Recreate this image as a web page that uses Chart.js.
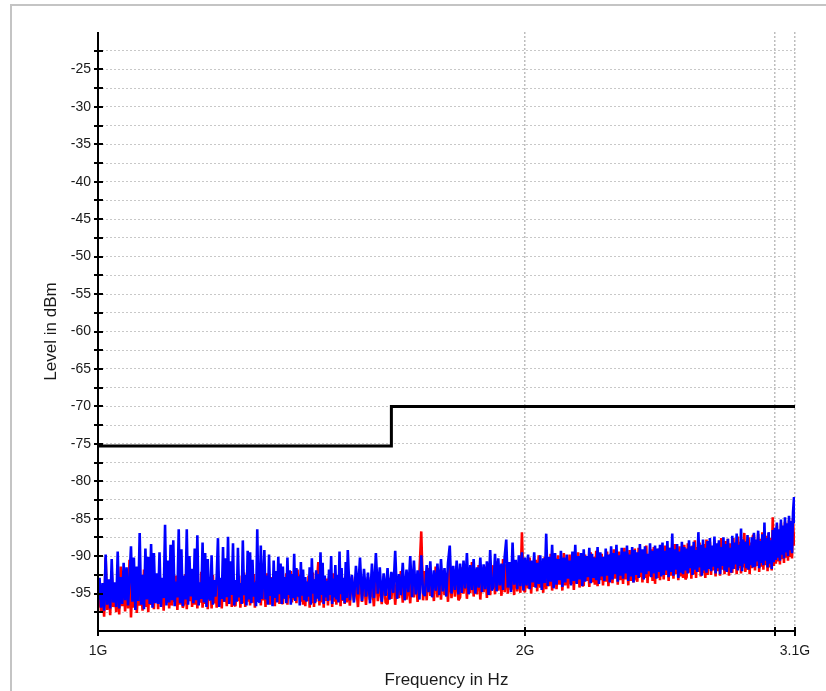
<!DOCTYPE html>
<html>
<head>
<meta charset="utf-8">
<script src="https://cdn.jsdelivr.net/npm/chart.js@4"></script>
<style>
  html, body { margin: 0; padding: 0; background: #fff; overflow: hidden; }
  canvas { display: block; }
</style>
</head>
<body>
<canvas id="chart" width="826" height="691"></canvas>
<script>
// sweep points in MHz (2.5 MHz steps up to 1.5 GHz, 5 MHz above)
const freqMHz = [
  1000,1002.5,1005,1007.5,1010,1012.5,1015,1017.5,1020,1022.5,1025,1027.5,1030,1032.5,1035,1037.5,1040,1042.5,1045,1047.5,
  1050,1052.5,1055,1057.5,1060,1062.5,1065,1067.5,1070,1072.5,1075,1077.5,1080,1082.5,1085,1087.5,1090,1092.5,1095,1097.5,
  1100,1102.5,1105,1107.5,1110,1112.5,1115,1117.5,1120,1122.5,1125,1127.5,1130,1132.5,1135,1137.5,1140,1142.5,1145,1147.5,
  1150,1152.5,1155,1157.5,1160,1162.5,1165,1167.5,1170,1172.5,1175,1177.5,1180,1182.5,1185,1187.5,1190,1192.5,1195,1197.5,
  1200,1202.5,1205,1207.5,1210,1212.5,1215,1217.5,1220,1222.5,1225,1227.5,1230,1232.5,1235,1237.5,1240,1242.5,1245,1247.5,
  1250,1252.5,1255,1257.5,1260,1262.5,1265,1267.5,1270,1272.5,1275,1277.5,1280,1282.5,1285,1287.5,1290,1292.5,1295,1297.5,
  1300,1302.5,1305,1307.5,1310,1312.5,1315,1317.5,1320,1322.5,1325,1327.5,1330,1332.5,1335,1337.5,1340,1342.5,1345,1347.5,
  1350,1352.5,1355,1357.5,1360,1362.5,1365,1367.5,1370,1372.5,1375,1377.5,1380,1382.5,1385,1387.5,1390,1392.5,1395,1397.5,
  1400,1402.5,1405,1407.5,1410,1412.5,1415,1417.5,1420,1422.5,1425,1427.5,1430,1432.5,1435,1437.5,1440,1442.5,1445,1447.5,
  1450,1452.5,1455,1457.5,1460,1462.5,1465,1467.5,1470,1472.5,1475,1477.5,1480,1482.5,1485,1487.5,1490,1492.5,1495,1497.5,
  1500,1505,1510,1515,1520,1525,1530,1535,1540,1545,1550,1555,1560,1565,1570,1575,1580,1585,1590,1595,
  1600,1605,1610,1615,1620,1625,1630,1635,1640,1645,1650,1655,1660,1665,1670,1675,1680,1685,1690,1695,
  1700,1705,1710,1715,1720,1725,1730,1735,1740,1745,1750,1755,1760,1765,1770,1775,1780,1785,1790,1795,
  1800,1805,1810,1815,1820,1825,1830,1835,1840,1845,1850,1855,1860,1865,1870,1875,1880,1885,1890,1895,
  1900,1905,1910,1915,1920,1925,1930,1935,1940,1945,1950,1955,1960,1965,1970,1975,1980,1985,1990,1995,
  2000,2005,2010,2015,2020,2025,2030,2035,2040,2045,2050,2055,2060,2065,2070,2075,2080,2085,2090,2095,
  2100,2105,2110,2115,2120,2125,2130,2135,2140,2145,2150,2155,2160,2165,2170,2175,2180,2185,2190,2195,
  2200,2205,2210,2215,2220,2225,2230,2235,2240,2245,2250,2255,2260,2265,2270,2275,2280,2285,2290,2295,
  2300,2305,2310,2315,2320,2325,2330,2335,2340,2345,2350,2355,2360,2365,2370,2375,2380,2385,2390,2395,
  2400,2405,2410,2415,2420,2425,2430,2435,2440,2445,2450,2455,2460,2465,2470,2475,2480,2485,2490,2495,
  2500,2505,2510,2515,2520,2525,2530,2535,2540,2545,2550,2555,2560,2565,2570,2575,2580,2585,2590,2595,
  2600,2605,2610,2615,2620,2625,2630,2635,2640,2645,2650,2655,2660,2665,2670,2675,2680,2685,2690,2695,
  2700,2705,2710,2715,2720,2725,2730,2735,2740,2745,2750,2755,2760,2765,2770,2775,2780,2785,2790,2795,
  2800,2805,2810,2815,2820,2825,2830,2835,2840,2845,2850,2855,2860,2865,2870,2875,2880,2885,2890,2895,
  2900,2905,2910,2915,2920,2925,2930,2935,2940,2945,2950,2955,2960,2965,2970,2975,2980,2985,2990,2995,
  3000,3005,3010,3015,3020,3025,3030,3035,3040,3045,3050,3055,3060,3065,3070,3075,3080,3085,3090,3095,
  3100
];

// blue trace (dBm)
const blueLevel = [
  -95.8,-92.9,-96.9,-93.6,-97.3,-89.8,-96.5,-93.1,-97.0,-90.4,-96.2,-93.5,-96.8,-89.4,-97.0,-92.8,-96.4,-90.9,-95.9,-91.5,
  -96.6,-93.0,-88.7,-96.1,-90.2,-97.2,-91.4,-96.0,-86.9,-96.5,-92.5,-97.1,-89.0,-95.8,-90.1,-96.4,-88.4,-96.9,-89.6,-96.3,
  -92.3,-96.4,-89.5,-96.8,-92.9,-95.6,-85.8,-96.6,-90.6,-96.2,-88.5,-95.9,-87.9,-96.7,-93.4,-95.5,-86.4,-96.3,-89.1,-96.7,
  -92.6,-95.8,-86.4,-96.5,-90.0,-95.4,-91.7,-96.3,-89.0,-95.9,-87.2,-96.6,-93.5,-95.7,-88.2,-96.2,-89.6,-96.8,-90.4,-95.6,
  -95.9,-89.9,-96.5,-93.2,-95.4,-92.7,-87.6,-96.8,-92.9,-95.7,-88.8,-96.1,-90.3,-95.5,-87.4,-96.4,-90.7,-95.2,-88.3,-96.6,
  -93.2,-96.1,-88.9,-95.5,-93.6,-96.4,-87.9,-95.2,-92.5,-96.6,-89.3,-95.8,-89.5,-96.3,-90.5,-95.4,-93.5,-96.7,-86.4,-96.0,
  -96.2,-88.6,-95.7,-93.3,-89.2,-95.8,-92.6,-96.5,-89.8,-95.3,-92.9,-96.7,-90.6,-95.6,-92.0,-96.2,-90.1,-95.1,-91.0,-96.4,
  -91.4,-95.7,-92.8,-96.3,-90.2,-95.2,-91.9,-96.5,-92.4,-95.6,-89.7,-96.0,-91.6,-95.4,-92.7,-96.6,-90.8,-95.3,-91.8,-95.9,
  -92.8,-96.1,-93.4,-95.4,-91.5,-96.5,-90.3,-95.0,-93.1,-96.3,-91.9,-95.7,-92.4,-96.0,-89.5,-95.2,-90.9,-96.4,-92.6,-95.5,
  -93.3,-96.0,-91.8,-95.2,-90.0,-96.4,-93.0,-95.5,-91.2,-95.8,-92.5,-96.2,-89.4,-95.1,-91.6,-95.9,-92.9,-96.3,-90.8,-95.6,
  -89.2,-95.9,-92.5,-96.2,-91.3,-95.1,-90.2,-96.0,-91.7,-95.4,-92.2,-96.3,-91.0,-95.6,-89.6,-95.0,-91.5,-96.1,-92.3,-95.3,
  -91.6,-95.8,-92.1,-94.9,-89.3,-95.7,-92.4,-95.2,-90.9,-95.9,-91.8,-94.8,-90.0,-95.5,-90.6,-95.1,-91.9,-95.8,-89.9,-94.9,
  -95.3,-91.2,-94.8,-90.7,-95.5,-91.9,-94.6,-91.0,-95.2,-90.4,-94.7,-91.6,-95.4,-90.9,-88.6,-95.0,-91.3,-94.5,-90.6,-95.1,
  -91.0,-94.9,-90.6,-94.3,-89.6,-95.1,-91.2,-94.5,-90.4,-95.0,-91.5,-94.2,-90.2,-94.8,-91.1,-94.4,-90.7,-95.2,-89.2,-94.6,
  -94.1,-89.7,-94.7,-90.3,-93.9,-91.0,-94.5,-90.1,-87.8,-94.2,-90.8,-94.8,-88.2,-93.8,-90.5,-94.4,-89.9,-94.0,-89.5,-94.6,
  -90.2,-93.9,-89.8,-94.4,-90.6,-93.5,-89.5,-94.2,-90.9,-93.7,-89.9,-94.5,-90.3,-93.6,-87.0,-94.0,-90.1,-93.4,-88.5,-94.3,
  -89.6,-93.8,-90.4,-93.2,-89.3,-94.1,-90.2,-93.5,-89.8,-93.0,-90.6,-93.9,-89.4,-93.3,-88.5,-93.7,-90.0,-93.1,-89.6,-94.0,
  -89.1,-93.4,-90.0,-92.8,-88.9,-93.6,-89.7,-92.9,-90.2,-93.2,-88.8,-93.7,-89.5,-92.7,-90.1,-93.3,-89.0,-92.6,-89.8,-93.5,
  -88.7,-93.1,-89.6,-92.4,-88.5,-93.4,-89.9,-92.6,-88.9,-93.0,-89.4,-92.3,-88.6,-93.3,-89.8,-92.7,-88.8,-93.5,-89.2,-92.5,
  -89.5,-92.9,-88.4,-92.2,-89.1,-93.1,-88.7,-92.4,-89.7,-92.0,-88.3,-92.8,-89.3,-92.3,-88.6,-93.0,-89.0,-92.1,-88.5,-92.7,
  -88.2,-92.5,-89.3,-91.9,-88.0,-92.8,-88.9,-92.1,-87.0,-92.6,-89.1,-91.8,-88.4,-92.9,-89.4,-92.2,-88.1,-92.4,-88.8,-91.9,
  -89.0,-92.3,-87.9,-91.6,-88.7,-92.5,-88.1,-91.8,-89.2,-92.1,-86.8,-91.5,-88.5,-92.6,-87.8,-91.9,-88.9,-92.2,-88.0,-91.7,
  -87.6,-92.0,-88.6,-91.4,-87.4,-92.3,-88.3,-91.6,-87.9,-92.4,-88.8,-91.3,-87.5,-91.9,-88.4,-92.1,-87.7,-91.5,-88.9,-92.2,
  -87.3,-91.7,-88.2,-91.1,-87.0,-91.9,-88.5,-91.3,-86.3,-92.0,-87.8,-91.0,-88.1,-91.6,-87.2,-91.8,-88.6,-91.2,-87.5,-91.5,
  -86.9,-91.4,-87.8,-90.7,-86.6,-91.6,-88.0,-90.9,-87.1,-91.2,-85.5,-90.6,-87.6,-91.5,-86.8,-91.0,-87.9,-91.7,-86.5,-90.8,
  -86.2,-90.5,-85.5,-90.2,-86.4,-90.6,-85.1,-89.8,-85.9,-90.3,-84.8,-89.5,-85.6,-90.0,-84.6,-89.2,-85.3,-89.6,-84.2,-82.1,
  -85.6
];

// red trace (dBm)
const redLevel = [
  -96.9,-93.8,-97.6,-94.2,-98.1,-90.2,-97.2,-93.4,-97.9,-92.0,-96.8,-94.1,-97.5,-93.0,-97.8,-91.4,-96.7,-93.6,-97.4,-92.6,
  -97.0,-90.5,-98.2,-93.7,-96.9,-92.9,-97.6,-94.0,-96.6,-93.7,-97.3,-91.8,-96.8,-93.3,-97.5,-92.4,-96.5,-94.2,-97.1,-93.1,
  -93.2,-97.1,-91.8,-96.4,-93.9,-97.3,-92.1,-96.2,-93.5,-97.0,-91.4,-96.6,-93.8,-96.1,-92.6,-97.2,-93.0,-96.5,-91.7,-96.9,
  -96.3,-92.4,-97.1,-93.6,-96.0,-91.9,-96.8,-93.2,-96.5,-92.7,-97.0,-93.9,-96.2,-92.1,-96.9,-93.4,-96.4,-91.6,-97.1,-93.0,
  -93.7,-97.0,-92.5,-96.3,-93.8,-96.9,-92.0,-96.5,-93.3,-97.0,-92.8,-96.1,-93.9,-96.7,-92.3,-96.0,-93.5,-96.8,-92.9,-96.4,
  -96.7,-93.4,-96.0,-92.6,-96.9,-93.8,-96.3,-92.2,-96.8,-93.1,-96.1,-92.7,-96.6,-93.6,-96.2,-92.4,-96.9,-93.3,-96.0,-92.8,
  -93.0,-96.6,-92.7,-95.9,-93.5,-96.8,-92.3,-96.1,-93.2,-96.5,-92.8,-95.8,-93.7,-96.7,-92.1,-96.0,-93.4,-96.4,-92.6,-96.2,
  -96.4,-92.9,-95.7,-92.3,-96.5,-93.1,-95.6,-92.0,-96.2,-92.7,-95.8,-93.3,-96.3,-91.8,-95.5,-92.5,-96.1,-92.2,-96.5,-93.0,
  -96.7,-93.4,-96.0,-92.6,-96.9,-93.8,-96.3,-92.2,-96.8,-93.1,-96.1,-92.7,-90.8,-96.6,-93.6,-96.2,-92.4,-96.9,-93.3,-96.0,
  -93.0,-96.6,-92.7,-95.9,-93.5,-96.8,-92.3,-96.1,-93.2,-96.5,-92.8,-95.8,-93.7,-96.7,-92.1,-96.0,-93.4,-96.4,-92.6,-96.2,
  -93.0,-96.6,-92.7,-95.9,-93.5,-96.8,-92.3,-96.1,-93.2,-96.5,-92.8,-95.8,-93.7,-96.7,-92.1,-96.0,-93.4,-96.4,-92.6,-96.2,
  -96.4,-92.9,-95.7,-92.3,-96.5,-93.1,-95.6,-92.0,-96.2,-92.7,-95.8,-93.3,-96.3,-91.8,-95.5,-92.5,-96.1,-92.2,-86.7,-95.9,
  -92.0,-95.9,-91.6,-95.3,-92.6,-96.0,-91.4,-95.5,-92.3,-95.8,-91.9,-95.2,-92.5,-96.1,-91.3,-95.6,-92.1,-95.4,-91.7,-95.9,
  -95.5,-91.5,-95.0,-91.1,-95.7,-92.0,-94.9,-90.8,-95.4,-91.7,-95.1,-91.2,-95.8,-91.9,-94.8,-91.4,-95.6,-90.9,-95.2,-91.6,
  -91.3,-95.1,-90.7,-94.6,-91.5,-95.3,-90.4,-94.8,-91.1,-95.0,-90.9,-94.5,-91.6,-95.2,-90.6,-94.7,-91.2,-94.9,-86.8,-94.4,
  -94.8,-90.6,-94.3,-90.2,-95.0,-91.0,-94.1,-90.5,-94.7,-89.9,-94.2,-90.8,-94.9,-90.1,-94.4,-90.7,-94.0,-89.7,-94.6,-90.4,
  -90.3,-94.4,-89.9,-93.8,-90.7,-94.6,-89.6,-93.9,-90.5,-94.3,-89.8,-93.7,-90.2,-94.5,-90.9,-93.6,-89.5,-94.2,-90.6,-93.9,
  -93.9,-89.8,-93.3,-90.4,-94.1,-89.5,-93.5,-90.1,-93.8,-89.3,-94.0,-90.6,-93.2,-89.7,-93.9,-90.2,-93.4,-89.4,-94.0,-90.0,
  -89.7,-93.6,-89.1,-93.0,-90.1,-93.8,-89.4,-93.2,-89.9,-93.7,-88.9,-93.1,-89.6,-93.9,-89.2,-93.3,-90.0,-93.5,-89.0,-93.0,
  -93.4,-88.9,-92.8,-89.6,-93.5,-89.2,-92.9,-88.6,-93.6,-89.8,-92.7,-89.1,-93.3,-88.8,-93.7,-89.5,-92.9,-89.0,-93.2,-88.7,
  -89.4,-93.1,-88.6,-92.5,-89.2,-93.3,-88.9,-92.6,-89.5,-93.0,-88.4,-92.4,-89.0,-93.2,-88.7,-92.7,-89.3,-92.9,-88.5,-93.1,
  -92.8,-88.3,-92.2,-89.0,-93.0,-88.6,-92.4,-87.9,-92.9,-88.8,-92.1,-88.2,-92.7,-89.1,-92.3,-88.4,-92.9,-87.8,-92.5,-88.7,
  -88.1,-92.5,-88.8,-91.9,-87.9,-92.7,-88.5,-92.0,-88.2,-92.6,-87.6,-91.8,-88.6,-92.4,-88.0,-92.1,-87.7,-92.6,-88.3,-91.9,
  -92.2,-87.6,-91.7,-88.3,-92.4,-87.4,-91.6,-88.1,-92.3,-87.8,-91.5,-86.9,-92.1,-88.0,-91.8,-87.5,-92.4,-88.2,-91.6,-87.3,
  -87.2,-91.9,-88.1,-91.3,-87.0,-92.1,-87.7,-91.4,-86.8,-91.8,-87.9,-91.2,-87.3,-92.0,-86.9,-91.5,-87.6,-91.9,-84.8,-91.3,
  -86.6,-91.0,-85.9,-90.7,-86.8,-91.1,-85.6,-90.4,-86.2,-90.9,-85.4,-90.2,-86.0,-90.6,-85.2,-90.1,-85.8,-90.3,-85.0,-88.6,
  -86.8
];

// limit line
const limitFreqMHz = [1000, 1610, 1610, 3100];
const limitLevel = [-75.3, -75.3, -70, -70];

// axis ticks
const xTickValues = [1e9, 2e9, 3e9, 3.1e9];
const xTickLabels = ['1G', '2G', '', '3.1G'];

function toPoints(fs, ls) {
  return fs.map((f, i) => ({ x: f * 1e6, y: ls[i] }));
}

Chart.defaults.font.family = "'Liberation Sans', Arial, sans-serif";
Chart.defaults.color = '#1a1a1a';

// frame + axis lines with crossing tick marks
const frame = {
  id: 'frame',
  beforeDraw(chart) {
    const c = chart.ctx;
    c.save();
    c.fillStyle = '#fff';
    c.fillRect(0, 0, chart.width, chart.height);
    c.fillStyle = '#c4c4c4';
    c.fillRect(10, 4, chart.width - 10, 2);
    c.fillRect(10, 4, 2, chart.height);
    c.restore();
  },
  afterDraw(chart) {
    const c = chart.ctx, a = chart.chartArea;
    const xs = chart.scales.x, ys = chart.scales.y;
    c.save();
    c.strokeStyle = '#000';
    c.lineWidth = 2;
    c.beginPath();
    c.moveTo(a.left, a.top);
    c.lineTo(a.left, a.bottom + 1);
    c.moveTo(a.left - 1, a.bottom);
    c.lineTo(a.right, a.bottom);
    ys.ticks.forEach(t => {
      const y = Math.round(ys.getPixelForValue(t.value));
      c.moveTo(a.left - 4, y);
      c.lineTo(a.left + 5, y);
    });
    xs.ticks.forEach(t => {
      const x = Math.round(xs.getPixelForValue(t.value));
      c.moveTo(x, a.bottom - 4);
      c.lineTo(x, a.bottom + 5);
    });
    c.stroke();
    c.restore();
  }
};

const ctx = document.getElementById('chart').getContext('2d');

const myChart = new Chart(ctx, {
  type: 'line',
  data: {
    datasets: [
      {
        label: 'blue',
        data: toPoints(freqMHz, blueLevel),
        borderColor: '#0000ff',
        borderWidth: 2.6,
        borderJoinStyle: 'bevel',
        pointRadius: 0,
        tension: 0
      },
      {
        label: 'red',
        data: toPoints(freqMHz, redLevel),
        borderColor: '#ff0000',
        borderWidth: 2.6,
        borderJoinStyle: 'bevel',
        pointRadius: 0,
        tension: 0
      },
      {
        label: 'limit',
        data: toPoints(limitFreqMHz, limitLevel),
        borderColor: '#000000',
        borderWidth: 3,
        pointRadius: 0,
        tension: 0
      }
    ]
  },
  options: {
    responsive: false,
    animation: false,
    devicePixelRatio: 1,
    layout: { padding: { left: 0, right: 31, top: 32, bottom: 0 } },
    plugins: { legend: { display: false }, tooltip: { enabled: false } },
    scales: {
      x: {
        type: 'logarithmic',
        min: 1e9,
        max: 3.1e9,
        afterBuildTicks: s => { s.ticks = xTickValues.map(v => ({ value: v })); },
        afterFit: s => { s.height = 60; },
        ticks: {
          autoSkip: false,
          maxRotation: 0,
          padding: 12,
          font: { size: 14 },
          callback: (v, i) => xTickLabels[i]
        },
        grid: { color: '#bdbdbd', lineWidth: 1.5, drawTicks: false },
        border: { display: false, dash: [2, 2] },
        title: {
          display: true,
          text: 'Frequency in Hz',
          font: { size: 17 },
          padding: { top: 0, bottom: 0 }
        }
      },
      y: {
        min: -100,
        max: -20,
        afterBuildTicks: s => {
          const t = [];
          for (let v = -97.5; v <= -22.5; v += 2.5) t.push({ value: v });
          s.ticks = t;
        },
        afterFit: s => { s.width = 98; },
        ticks: {
          autoSkip: false,
          padding: 7,
          font: { size: 14 },
          callback: v => (v % 5 === 0 ? String(v) : '')
        },
        grid: { color: '#c8c8c8', lineWidth: 1, drawTicks: false },
        border: { display: false, dash: [2, 2] },
        title: {
          display: true,
          text: 'Level in dBm',
          font: { size: 17 },
          padding: { top: 41, bottom: 0 }
        }
      }
    }
  },
  plugins: [frame]
});
</script>
</body>
</html>
